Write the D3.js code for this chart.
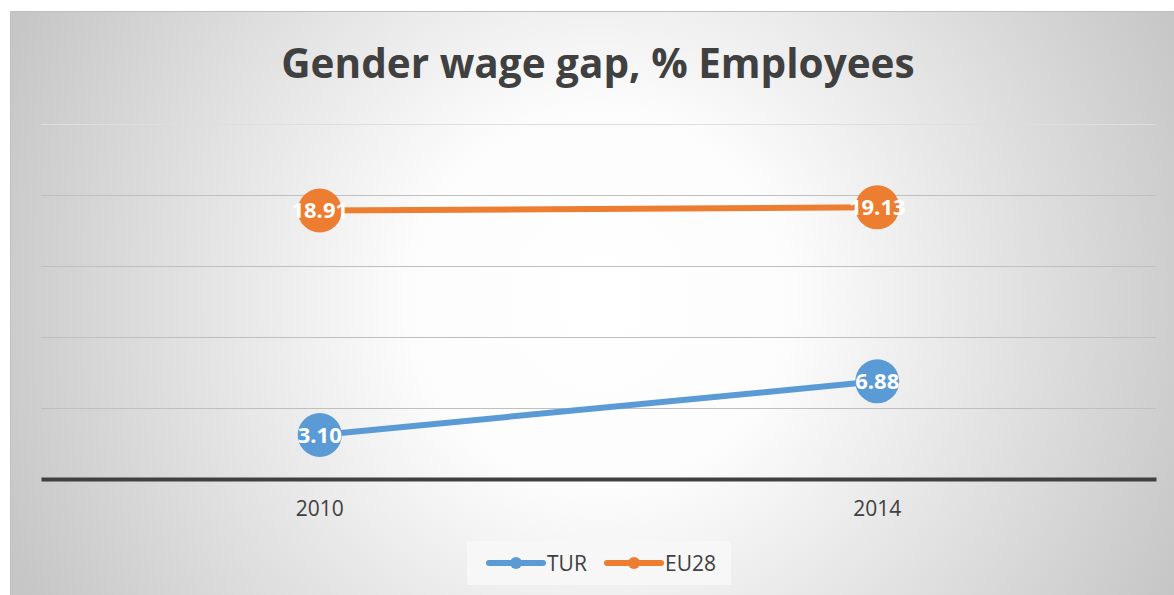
<!DOCTYPE html>
<html>
<head>
<meta charset="utf-8">
<script src="https://cdnjs.cloudflare.com/ajax/libs/d3/7.8.5/d3.min.js"></script>
<style>
  body { margin: 0; background: #fff; }
  svg { display: block; font-family: "Open Sans", sans-serif; }
</style>
</head>
<body>
<svg id="chart" width="1174" height="595"></svg>
<script>
// data
var years = ["2010", "2014"];
var turValues = [3.10, 6.88];
var eu28Values = [18.91, 19.13];
var seriesNames = ["TUR", "EU28"];
var seriesColors = ["#5b9bd5", "#ed7d31"];
var gridTicks = [0, 5, 10, 15, 20, 25];

var svg = d3.select('#chart'),
    width = +svg.attr('width'),
    height = +svg.attr('height');

var defs = svg.append('defs');
var grad = defs.append('radialGradient')
    .attr('id', 'bg')
    .attr('gradientUnits', 'userSpaceOnUse')
    .attr('cx', 600).attr('cy', 300).attr('r', 640);
grad.append('stop').attr('offset', '0%').attr('stop-color', '#ffffff');
grad.append('stop').attr('offset', '30%').attr('stop-color', '#fcfcfc');
grad.append('stop').attr('offset', '100%').attr('stop-color', '#c6c6c6');

// chart area with top/left border
svg.append('rect')
    .attr('x', 10).attr('y', 11)
    .attr('width', width - 10).attr('height', height - 11)
    .attr('fill', 'url(#bg)');
svg.append('path')
    .attr('d', 'M10.5,' + height + 'V11.5H' + width)
    .attr('fill', 'none')
    .attr('stroke', '#bfbfbf')
    .attr('stroke-width', 1);

// title
svg.append('text')
    .attr('x', 598).attr('y', 78)
    .attr('text-anchor', 'middle')
    .attr('font-size', 40.5)
    .attr('font-weight', 'bold')
    .attr('fill', '#404040')
    .text('Gender wage gap, % Employees');

var x = d3.scaleBand()
    .domain(years)
    .range([41, 1156]);

var y = d3.scaleLinear()
    .domain([0, 25])
    .range([479, 124]);

// gridlines
svg.append('g')
    .selectAll('line')
    .data(gridTicks.filter(d => d > 0))
    .enter()
    .append('line')
    .attr('x1', 41).attr('x2', 1156)
    .attr('y1', d => Math.round(y(d)) + 0.5)
    .attr('y2', d => Math.round(y(d)) + 0.5)
    .attr('stroke', d => d === 25 ? '#dedede' : '#bfbfbf')
    .attr('stroke-width', 1);

// x axis
var xAxis = svg.append('g')
    .attr('transform', 'translate(0,' + y(0) + ')')
    .call(d3.axisBottom(x).tickSize(0).tickPadding(22));
xAxis.select('.domain')
    .attr('stroke', '#404040')
    .attr('stroke-width', 4);
xAxis.selectAll('text')
    .attr('font-size', 21)
    .attr('font-family', '"Open Sans", sans-serif')
    .attr('fill', '#404040');

var series = [
    { name: seriesNames[0], color: seriesColors[0], values: turValues },
    { name: seriesNames[1], color: seriesColors[1], values: eu28Values }
];

var line = d3.line()
    .x((d, i) => x(years[i]) + x.bandwidth() / 2)
    .y(d => y(d));

var sg = svg.selectAll('.series')
    .data(series)
    .enter()
    .append('g')
    .attr('class', 'series');

sg.append('path')
    .attr('d', d => line(d.values))
    .attr('fill', 'none')
    .attr('stroke', d => d.color)
    .attr('stroke-width', 6)
    .attr('stroke-linecap', 'round');

var pts = sg.selectAll('.pt')
    .data(d => d.values.map((v, i) => ({ v: v, i: i, color: d.color })))
    .enter()
    .append('g')
    .attr('class', 'pt')
    .attr('transform', d => 'translate(' + (x(years[d.i]) + x.bandwidth() / 2) + ',' + y(d.v) + ')');

pts.append('circle')
    .attr('r', 22)
    .attr('fill', d => d.color);

pts.append('text')
    .attr('text-anchor', 'middle')
    .attr('dy', '0.35em')
    .attr('font-size', 22)
    .attr('font-weight', 'bold')
    .attr('fill', '#ffffff')
    .text(d => d.v.toFixed(2));

// legend
var legend = svg.append('g');
legend.append('rect')
    .attr('x', 467).attr('y', 541)
    .attr('width', 264).attr('height', 44)
    .attr('fill', '#f7f7f7');

var li = legend.selectAll('.li')
    .data(series)
    .enter()
    .append('g')
    .attr('class', 'li')
    .attr('transform', (d, i) => 'translate(' + (489 + i * 118) + ',563)');

li.append('line')
    .attr('x1', 0).attr('x2', 54)
    .attr('stroke', d => d.color)
    .attr('stroke-width', 6)
    .attr('stroke-linecap', 'round');
li.append('circle')
    .attr('cx', 27).attr('r', 6)
    .attr('fill', d => d.color);
li.append('text')
    .attr('x', 58)
    .attr('dy', '0.36em')
    .attr('font-size', 21)
    .attr('fill', '#404040')
    .text(d => d.name);
</script>
</body>
</html>
